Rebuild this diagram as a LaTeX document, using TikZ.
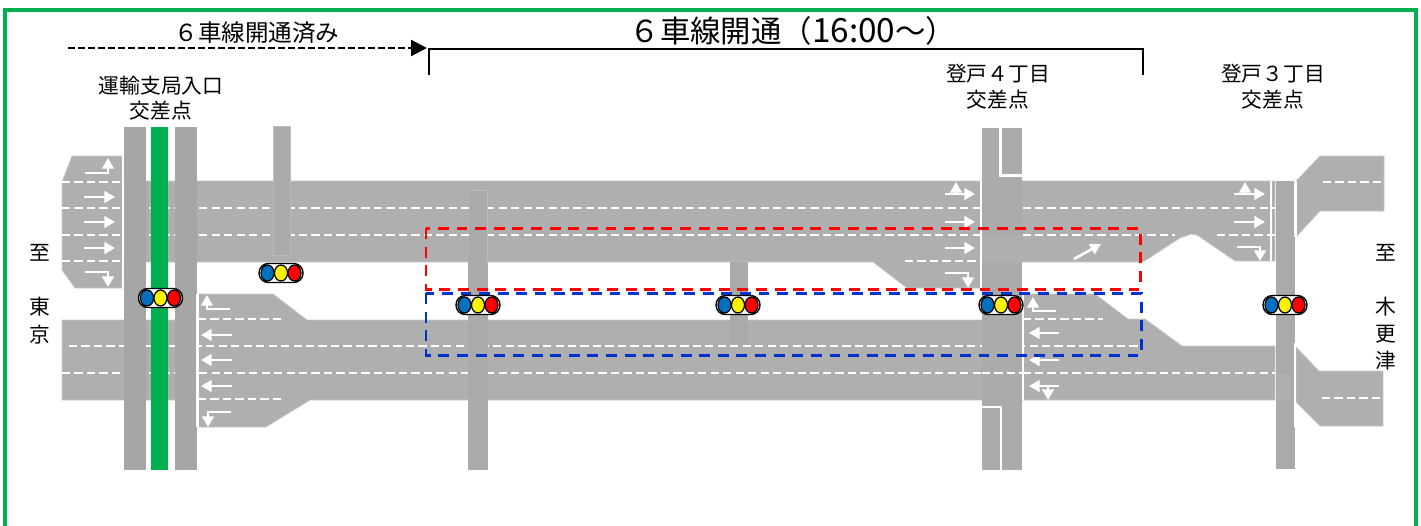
\documentclass[tikz,border=0pt]{standalone}
\usepackage{fontspec}
\setmainfont{Noto Sans CJK JP}
\usepackage{xcolor}
\usetikzlibrary{positioning,calc,arrows.meta}
\definecolor{roadgray}{HTML}{AFAFAF}
\definecolor{roadedge}{HTML}{C8C8C8}
\definecolor{crossgray}{HTML}{A6A6A6}
\definecolor{framegreen}{HTML}{00B050}
\definecolor{signalblue}{HTML}{0070C0}
\definecolor{areablue}{HTML}{0033CC}
\tikzset{
    road/.style={fill=roadgray, draw=roadedge, line width=0.4pt},
    sidebar/.style={fill=crossgray!60!roadgray, draw=roadgray!85!white, line width=0.3pt},
    lanedash/.style={white, line width=1.6pt, dash pattern=on 4.7pt off 2.4pt},
    stopline/.style={white, line width=1.3pt},
    lanearrow/.style={white, line width=1.5pt, -{Triangle[length=6pt,width=6.5pt]}},
    areabox/.style={line width=1.7pt, dash pattern=on 6.2pt off 4.4pt},
    label/.style={font=\fontsize{11.8pt}{13pt}\selectfont, inner sep=0pt},
    signal/.pic={
        \draw [black, fill=white, line width=0.8pt, rounded corners=5.3pt] (-22,-9.5) rectangle (22,9.5);
        \draw [black, fill=signalblue, line width=0.7pt] (-13.5,0) ellipse [x radius=6.5, y radius=8];
        \draw [black, fill=yellow, line width=0.7pt] (0,0) ellipse [x radius=6.5, y radius=8];
        \draw [black, fill=red, line width=0.7pt] (13.5,0) ellipse [x radius=6.5, y radius=8];
    }
}

\begin{document}
\begin{tikzpicture}[x=0.02cm, y=-0.02cm]
    \useasboundingbox (0,0) rectangle (1421,525);
    \draw [framegreen, line width=2.3pt] (5,530) -- (5,10) -- (1416,10) -- (1416,530);

    % Road surface
    \draw [road] (62,182) -- (72,156) -- (122,156) -- (122,181) -- (1275,181) -- (1275,261) -- (1235,261) -- (1197,235) -- (1191,234) -- (1180,238) -- (1143,262)
        -- (982,262) -- (982,288) -- (907,288) -- (873,262) -- (122,262) -- (122,288) -- (75,288) -- (62,270) -- cycle;
    \draw [road] (62,320) -- (198,320) -- (198,294) -- (273,294) -- (307,320) -- (1023,320) -- (1023,294) -- (1095,294) -- (1128,319) -- (1145,319) -- (1182,346)
        -- (1275,346) -- (1275,400) -- (310,400) -- (266,427) -- (198,427) -- (198,400) -- (62,400) -- cycle;
    \draw [road] (1296,181) -- (1320,156) -- (1384,156) -- (1384,211) -- (1320,211) -- (1296,237) -- cycle;
    \draw [road] (1296,347) -- (1319,371) -- (1383,371) -- (1383,426) -- (1320,426) -- (1296,402) -- cycle;

    % Lane lines
    \foreach \ypos/\xfrom/\xto in {182/62/122, 261/62/122, 208/62/1275, 235/62/1175, 235/1217/1275, 261/905/980,
        319/198/282, 399/198/285, 346/69/1140, 373/62/1275, 319/1023/1103, 182/1323/1383, 398/1322/1383}
        \draw [lanedash] (\xfrom,\ypos) -- (\xto,\ypos);

    % Crossing roads
    \fill [crossgray] (124,127) rectangle (146,470);
    \fill [framegreen] (151,127) rectangle (168,470);
    \fill [crossgray] (175,127) rectangle (197,470);
    \draw [sidebar] (273,126) rectangle (290,255);
    \draw [sidebar] (469,190) -- (487,190) -- (487,262) -- (469,262);
    \fill [crossgray!60!roadgray] (468,262) rectangle (488,470);
    \fill [crossgray!60!roadgray] (730,262) rectangle (748,345);
    \fill [crossgray!50!roadgray] (982,128) rectangle (1022,470);
    \fill [roadgray] (982,235) rectangle (1023,262);
    \fill [crossgray!60!roadgray] (1276,181) rectangle (1295,469);
    \fill [roadgray] (1276,374) rectangle (1291,400);
    \draw [lanedash] (982,373) -- (1022,373);

    % Stop lines and islands
    \draw [stopline] (123,156) -- (123,288);
    \draw [stopline] (197.5,294) -- (197.5,427);
    \draw [stopline] (981,181) -- (981,288);
    \draw [stopline] (1023,294) -- (1023,400);
    \draw [stopline] (1271,181) -- (1271,261);
    \draw [stopline] (1295.5,181) -- (1295.5,237);
    \draw [stopline] (1295,343) -- (1295,427);
    \draw [stopline] (1000.5,127) -- (1000.5,175.5) -- (1022,175.5);
    \draw [stopline] (981,407) -- (1001,407) -- (1001,470);

    % Lane arrows
    \draw [lanearrow] (85,173) -- (108,173) -- (108,158);
    \foreach \ypos in {197,222,248}
        \draw [lanearrow] (84,\ypos) -- (115,\ypos);
    \draw [lanearrow] (85,272) -- (108,272) -- (108,287);
    \draw [lanearrow] (230,309) -- (207,309) -- (207,295);
    \foreach \ypos in {335,360,386}
        \draw [lanearrow] (232,\ypos) -- (201,\ypos);
    \draw [lanearrow] (231,412) -- (208,412) -- (208,427);
    \foreach \ypos in {194,222,248}
        \draw [lanearrow] (945,\ypos) -- (975,\ypos);
    \draw [lanearrow] (956,194) -- (956,182);
    \draw [lanearrow] (945,273) -- (968,273) -- (968,288);
    \draw [lanearrow] (1074,259) -- (1101,244);
    \draw [lanearrow] (1056,311) -- (1033,311) -- (1033,297);
    \foreach \ypos in {333,360,386}
        \draw [lanearrow] (1059,\ypos) -- (1029,\ypos);
    \draw [lanearrow] (1048,386) -- (1048,400);
    \foreach \ypos in {194,222}
        \draw [lanearrow] (1234,\ypos) -- (1265,\ypos);
    \draw [lanearrow] (1245,194) -- (1245,182);
    \draw [lanearrow] (1237,247) -- (1260,247) -- (1260,261);

    % Work areas
    \draw [areabox, areablue] (426,293) rectangle (1141,355);
    \draw [areabox, red] (426,228) rectangle (1140,289);

    % Signals
    \pic (sigLeft) at (160.5,298) {signal};
    \pic (sigSide) at (281,273) {signal};
    \pic (sigMidA) at (478,305) {signal};
    \pic (sigMidB) at (738,305) {signal};
    \pic (sigNoboA) at (1001,305) {signal};
    \pic (sigNoboB) at (1285,305) {signal};

    % Annotations
    \coordinate (doneStart) at (68,48);
    \coordinate (doneEnd) at (427,48);
    \draw [black, line width=1.3pt, dash pattern=on 3.7pt off 2pt, -{Triangle[length=9pt,width=9pt]}] (doneStart) -- (doneEnd);
    \node [font=\fontsize{13.4pt}{15pt}\selectfont, inner sep=0pt] (doneLabel) at (257,33) {６車線開通済み};
    \coordinate (openLeft) at (429,75);
    \coordinate (openRight) at (1143,75);
    \draw [black, line width=0.9pt] (openLeft) |- (openRight |- 0,49) -- (openRight);
    \node [font=\fontsize{17.3pt}{19pt}\selectfont, inner sep=0pt] (openLabel) at (793,31) {６車線開通（{\fontsize{19pt}{19pt}\selectfont 16:00}～）};
    \node [label] (crossA) at (161,86) {運輸支局入口};
    \node [label] (crossAb) at (161,111) {交差点};
    \node [label] (crossB) at (998,74) {登戸４丁目};
    \node [label] (crossBb) at (998,100) {交差点};
    \node [label] (crossC) at (1273,74) {登戸３丁目};
    \node [label] (crossCb) at (1273,100) {交差点};
    \node [label] (toTokyoA) at (40,253) {至};
    \node [label] (toTokyoB) at (40,307) {東};
    \node [label] (toTokyoC) at (40,335) {京};
    \node [label] (toKisaA) at (1386,253) {至};
    \node [label] (toKisaB) at (1386,307) {木};
    \node [label] (toKisaC) at (1386,334) {更};
    \node [label] (toKisaD) at (1386,361) {津};
\end{tikzpicture}
\end{document}
